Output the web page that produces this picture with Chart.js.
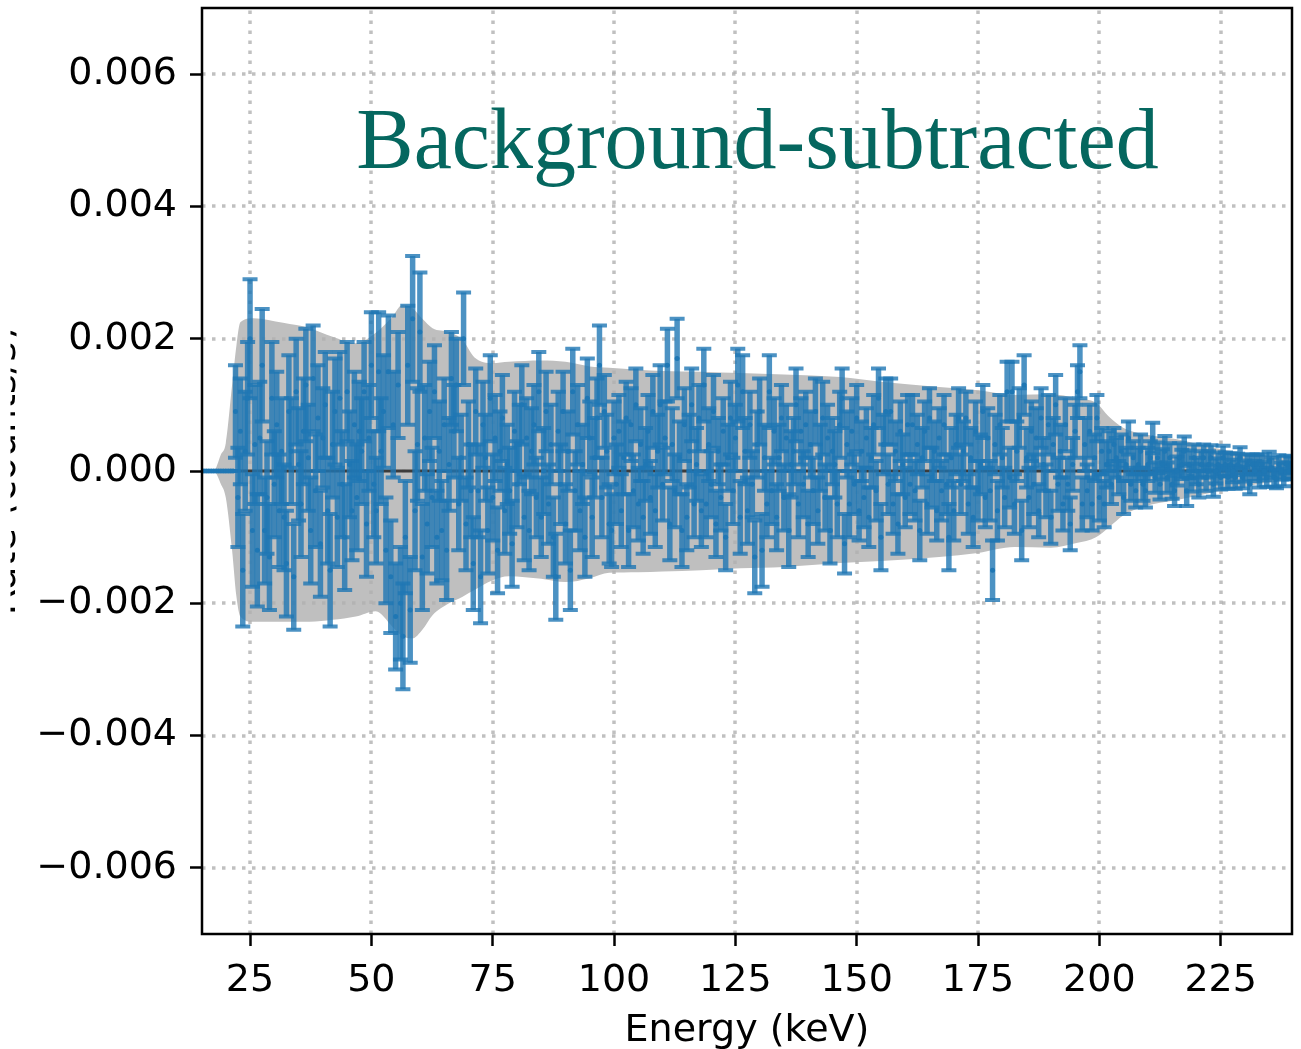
<!DOCTYPE html>
<html>
<head>
<meta charset="utf-8">
<title>Background-subtracted spectrum</title>
<script src="https://cdn.jsdelivr.net/npm/chart.js@4.4.1/dist/chart.umd.min.js"></script>
<style>
  html, body { margin: 0; padding: 0; background: #fff; }
  canvas { display: block; }
</style>
</head>
<body>
<canvas id="spectrum" width="1301" height="1049"></canvas>
<script>
// rate / error arrays are in units of 1e-4 (counts/s), one value per 0.5 keV bin from 15 keV
const SCALE = 1e-4;
const binStart = 15.0;
const binWidth = 0.5;

const rateE4 = [
  0, 0, 0, 0, 0, 0, 0, 0, 0, 0, 0, 0, 0, 0,
  9, -4, 6, -15, 3, 11, 20, -9, 4, -12,
  5, 16, -9, -4, -13, 11, -2, 7, -6, 3,
  -7, -14, 9, 3, -16, 12, 1, -5, 6, 13,
  2, -9, 14, -3, 8, -11, 5, 10, -6, -15,
  4, 9, -7, 11, -2, -10, 12, 1, -6, 7,
  -4, 6, 3, 12, -8, 5, 16, -2, -6, 15,
  3, 9, -12, 15, -16, 7, -22, 13, -20, -25,
  -10, 16, -21, 23, -6, 4, 21, -13, 5, -8,
  9, -4, 12, -10, 3, -9, 7, -12, 1, 14,
  6, 13, -5, 2, 20, -8, 4, -3, -14, 9,
  -3, -16, 7, 2, -9, 11, -4, 5, -12, 3,
  8, -6, 1, -3, -11, 6, -2, 4, 10, -7,
  5, -9, 3, 7, -4, 12, -7, 0, 9, -5,
  4, -10, -16, 6, -2, 9, -8, 3, -15, 12,
  -3, 7, -6, 1, -10, 11, 5, -7, 2, 8,
  16, -4, 9, 3, -8, -9, 5, -2, 6, -6,
  2, 8, -9, 7, -3, 10, -5, 4, -7, 1,
  6, -4, 9, -6, 3, 10, -2, 5, 16, -8,
  4, -3, 17, 2, -9, 7, -7, 3, 10, -5,
  1, 8, -6, 13, -5, 4, -2, 9, -8, 3,
  -4, 6, -10, 2, 8, -3, 5, 13, -7, 12,
  3, -6, 7, -2, -13, 4, 9, -12, 2, -5,
  12, -3, 6, -7, 2, 8, -4, 5, -9, 1,
  3, 10, -5, 6, -2, 7, -8, 4, -3, 9,
  -6, 2, 8, -4, 5, -9, 3, 1, -5, 7,
  11, -11, 4, -5, 6, -2, 8, -6, 3, -4,
  5, -7, 2, 7, -3, 11, -10, 4, 9, -2,
  9, -5, 3, -8, 6, 1, -4, 7, -2, 7,
  -3, 4, -9, 2, 6, -5, 8, -1, 3, -6,
  5, -3, 7, -2, -10, 2, -6, 4, 8, -2,
  3, 8, -5, 2, -7, 6, -3, 1, 9, -4,
  5, -3, -15, 4, -6, 7, 2, -4, 12, -1,
  12, -5, 3, 8, -9, 13, 2, -4, 6, -2,
  5, -6, 8, 1, -3, 7, -7, 4, 10, -2,
  3, -5, 7, -2, -8, 1, 6, 12, 15, -5,
  4, -3, 6, -5, 2, 8, -4, 3, -5, 1,
  3, -2, 4, 2, -1, 3, -4, 1, 5, -2,
  2, -3, 1, 3, -2, -3, 1, 2, 5, -1,
  2, -2, 1, 3, -1, 2, -2, -3, 0, 2,
  1, 3, -3, 1, -1, 2, 0, -2, 1, 2,
  -1, 1, 2, -2, 0, 1, -1, 2, 1, -1,
  1, 0, -1, 1, 2, -1, 0, 1, -2, 1,
  0, 1, -1, 1, 0, -1, 1.5, 0.5, -1, -1.2,
  1, 0, -1, 1, 0, 1, 0
];

const errE4 = [
  0, 0, 0, 0, 0, 0, 0, 0, 0, 0, 0, 0, 0, 0,
  7, 7.5, 8, 8.5, 9, 8.5, 9, 8.5, 9, 8.5,
  8.5, 8.5, 8, 8.5, 8, 8.5, 8, 8, 8.5, 8,
  8, 8, 8.5, 8, 8, 8, 8.5, 8, 8, 8.5,
  8, 8, 8, 8.5, 8, 8, 7.5, 8, 8, 8.5,
  8, 8, 7.5, 7, 8, 8, 7.5, 8, 7.5, 8,
  8, 7.5, 8, 7.5, 8, 8, 8, 8, 8, 9,
  8, 8.5, 8, 8.5, 8.5, 8, 8, 8, 8.5, 8,
  8.5, 9, 8, 9.5, 9, 8.5, 9, 8, 8, 7.5,
  7.5, 7.5, 7, 7, 7.5, 7.5, 7, 7.5, 7, 7,
  7, 7, 7, 6.5, 7, 7, 6.5, 7, 7, 6.5,
  7, 7, 6.5, 6.5, 6.5, 6.5, 6.5, 6.5, 6.5, 6,
  6.5, 6.5, 6, 6.5, 6.5, 6, 6.5, 6, 6, 6.5,
  6, 6, 6.5, 6, 6, 6, 6, 6.5, 6, 6,
  6, 6, 6.5, 6, 6, 6, 6, 6, 6, 6.5,
  6, 6, 6, 6, 6, 6, 5.5, 6, 6, 6,
  6, 6, 5.5, 5.5, 6, 5.5, 5.5, 6, 5.5, 5.5,
  5.5, 5.5, 5.5, 5.5, 5.5, 5.5, 5.5, 5.5, 5.5, 5.5,
  5.5, 5.5, 5.5, 5.5, 5.5, 6, 5.5, 5.5, 5.5, 5.5,
  5.5, 5.5, 6, 5.5, 5.5, 5.5, 5, 5.5, 5.5, 5,
  5.5, 5, 5.5, 5.5, 5, 5.5, 5, 5.5, 5, 5,
  5, 5, 5, 5, 5.5, 5, 5, 5.5, 5.5, 5.5,
  5, 5, 5, 5, 5.5, 5, 5, 5.5, 5, 5,
  5.5, 5, 5, 5, 5, 5, 5, 5, 5.5, 5,
  5, 5.5, 5, 5, 5, 5, 5, 5, 5, 5,
  5, 5, 5.5, 5, 5, 5, 5, 5, 5, 5,
  4.5, 4.5, 5, 5, 5, 4.5, 5, 4.5, 4.5, 4.5,
  4.5, 4.5, 4.5, 4.5, 4.5, 4.5, 5, 4.5, 5, 4.5,
  5, 4.5, 4.5, 4.5, 4.5, 4.5, 4.5, 4.5, 4.5, 4.5,
  4.5, 4.5, 4.5, 4.5, 4.5, 4.5, 4.5, 4.5, 4.5, 4.5,
  4.5, 4.5, 4.5, 4.5, 5, 4.5, 4.5, 4.5, 4.5, 4.5,
  4.5, 4, 4.5, 4.5, 4.5, 4.5, 4.5, 4.5, 4, 4.5,
  4.5, 4.5, 4.5, 4.5, 4.5, 4.5, 4.5, 4.5, 4.5, 4.5,
  4.5, 4.5, 4.5, 4.5, 4.5, 4.5, 4.5, 4.5, 4.5, 4.5,
  4.5, 4, 4.5, 4, 4, 4.5, 4, 4, 4.5, 4,
  4, 4, 4, 4, 4, 4, 4, 4, 4, 4,
  4, 4, 4, 4, 3.5, 3.5, 3.5, 3.5, 3.5, 3.5,
  3, 3, 2.5, 3, 2.5, 2.5, 2.5, 2.5, 2.5, 2.5,
  2.5, 2.5, 2.5, 2.5, 2.5, 2.5, 2.5, 2.5, 2.3, 2.3,
  2.3, 2.3, 2.3, 2.3, 2.3, 2.2, 2.2, 2.3, 2.2, 2.2,
  2.2, 2.2, 2.3, 2.1, 2.1, 2, 2, 2, 2, 2,
  2, 2, 1.9, 1.9, 1.9, 1.8, 1.8, 1.8, 1.8, 1.7,
  1.7, 1.7, 1.7, 1.6, 1.6, 1.6, 1.6, 1.5, 1.5, 1.5,
  1.5, 1.5, 1.5, 1.5, 1.4, 1.4, 1.4, 1.5, 1.4, 1.4,
  1.4, 1.3, 1.3, 1.3, 1.3, 1.2, 1.2
];

// grey envelope (also 1e-4 units)
const bandEnergy = [15, 17.5, 19, 20, 21.3, 22.2, 23, 25.7, 31.8, 37.3,
  42, 46.8, 50.9, 54.3, 56.4, 58.5, 60.5, 62.6, 66, 68.8,
  71.2, 75, 78.3, 85, 90, 95, 99, 105, 110, 118,
  126, 135, 146.6, 155, 167, 175, 182.5, 190, 195.3, 199.3,
  202, 205, 209, 216, 223, 230, 237, 240];
const bandUpperE4 = [0, 0, 2.5, 4.2, 13, 19, 22.5, 23.1, 22.4, 21.6,
  20.3, 19.3, 20.9, 23.3, 25.1, 24.6, 23, 21.6, 21, 19.8,
  17.2, 16.3, 16.5, 16.7, 16.5, 15.8, 15.6, 15.3, 15.1, 15.0,
  14.8, 14.6, 14.2, 13.5, 12.7, 12.2, 11.5, 11.6, 11, 10.3,
  8.2, 6.5, 5.6, 4.8, 3.6, 2.7, 2.2, 2.1];
const bandLowerE4 = [0, 0, -2, -4, -12, -19, -22, -22.8, -22.8, -22.8,
  -22.5, -22, -21.2, -23.5, -25, -25.3, -24, -21.8, -20, -19,
  -18, -16.5, -15.9, -16.3, -16.8, -16.2, -15.4, -15.3, -15.2, -15,
  -14.7, -14.5, -13.9, -13.6, -13, -12.4, -11.5, -11.6, -10.9, -10,
  -8.5, -6.7, -5.4, -4.4, -3.3, -2.3, -1.6, -1.4];

const xTicks = [25, 50, 75, 100, 125, 150, 175, 200, 225];
const xTickLabels = ['25', '50', '75', '100', '125', '150', '175', '200', '225'];
const yTicks = [-0.006, -0.004, -0.002, 0, 0.002, 0.004, 0.006];
const yTickLabels = ['\u22120.006', '\u22120.004', '\u22120.002', '0.000', '0.002', '0.004', '0.006'];

const titleText = 'Background-subtracted';
const xAxisTitle = 'Energy (keV)';
const yAxisTitle = 'Rate (counts/s)';

const energy = rateE4.map((_, i) => binStart + i * binWidth);

Chart.defaults.font.family = 'DejaVu Sans';

// dotted grid, drawn on top of the grey band
function drawGrid(chart) {
  const {ctx, chartArea: a, scales: {x, y}} = chart;
  ctx.save();
  ctx.strokeStyle = 'rgba(176,176,176,0.8)';
  ctx.lineWidth = 3.5;
  ctx.setLineDash([3.5, 6.5]);
  xTicks.forEach(v => {
    const px = Math.round(x.getPixelForValue(v));
    ctx.beginPath(); ctx.moveTo(px, a.bottom); ctx.lineTo(px, a.top); ctx.stroke();
  });
  yTicks.forEach(v => {
    const py = Math.round(y.getPixelForValue(v));
    ctx.beginPath(); ctx.moveTo(a.left, py); ctx.lineTo(a.right, py); ctx.stroke();
  });
  ctx.restore();
}

function drawErrorBars(chart) {
  const {ctx, chartArea: a, scales: {x, y}} = chart;
  ctx.save();
  ctx.beginPath();
  ctx.rect(a.left, a.top, a.right - a.left, a.bottom - a.top);
  ctx.clip();
  ctx.strokeStyle = 'rgba(31,119,180,0.8)';
  ctx.lineCap = 'butt';
  for (let i = 0; i < energy.length; i++) {
    const px = x.getPixelForValue(energy[i]);
    const top = y.getPixelForValue((rateE4[i] + errE4[i]) * SCALE);
    const bot = y.getPixelForValue((rateE4[i] - errE4[i]) * SCALE);
    if (errE4[i] > 0) {
      ctx.lineWidth = 5.5;
      ctx.beginPath(); ctx.moveTo(px, bot); ctx.lineTo(px, top); ctx.stroke();
    }
    ctx.lineWidth = 4;
    ctx.beginPath();
    ctx.moveTo(px - 7.5, top); ctx.lineTo(px + 7.5, top);
    ctx.moveTo(px - 7.5, bot); ctx.lineTo(px + 7.5, bot);
    ctx.stroke();
  }
  ctx.restore();
}

const extrasPlugin = {
  id: 'spectrumExtras',
  afterDatasetDraw(chart, args) {
    if (chart.data.datasets[args.index].label === 'band upper') drawGrid(chart);
  },
  beforeDatasetDraw(chart, args) {
    if (chart.data.datasets[args.index].label === 'rate') drawErrorBars(chart);
  },
  afterDraw(chart) {
    const {ctx, chartArea: a} = chart;
    ctx.save();
    // axes frame
    ctx.strokeStyle = '#000';
    ctx.lineWidth = 2.5;
    ctx.strokeRect(a.left, a.top, a.right - a.left, a.bottom - a.top);
    // title inside the plot
    ctx.fillStyle = '#05675f';
    ctx.font = '86px "Liberation Serif"';
    ctx.textAlign = 'center';
    ctx.textBaseline = 'alphabetic';
    ctx.fillText(titleText, a.left + (a.right - a.left) * 0.5096, a.bottom - (a.bottom - a.top) * 0.827);
    ctx.restore();

    // y label sits almost entirely off the left edge, only a sliver shows
    ctx.save();
    ctx.beginPath();
    ctx.rect(10.5, a.top, 6, a.bottom - a.top);
    ctx.clip();
    ctx.translate(15, (a.top + a.bottom) / 2);
    ctx.rotate(-Math.PI / 2);
    ctx.fillStyle = '#000';
    ctx.font = '38px "DejaVu Sans"';
    ctx.textAlign = 'center';
    ctx.textBaseline = 'alphabetic';
    ctx.fillText(yAxisTitle, 0, 0);
    ctx.restore();
  }
};

const ctx = document.getElementById('spectrum').getContext('2d');
new Chart(ctx, {
  type: 'scatter',
  data: {
    datasets: [
      {
        label: 'band upper',
        type: 'line',
        data: bandEnergy.map((e, i) => ({x: e, y: bandUpperE4[i] * SCALE})),
        borderColor: 'rgba(0,0,0,0)',
        borderWidth: 0,
        pointRadius: 0,
        backgroundColor: '#bfbfbf',
        fill: '+1',
        cubicInterpolationMode: 'monotone',
        order: 5
      },
      {
        label: 'band lower',
        type: 'line',
        data: bandEnergy.map((e, i) => ({x: e, y: bandLowerE4[i] * SCALE})),
        borderColor: 'rgba(0,0,0,0)',
        borderWidth: 0,
        pointRadius: 0,
        fill: false,
        cubicInterpolationMode: 'monotone',
        order: 6
      },
      {
        label: 'zero',
        type: 'line',
        data: [{x: binStart, y: 0}, {x: 240, y: 0}],
        borderColor: '#3c3c3c',
        borderWidth: 3,
        pointRadius: 0,
        fill: false,
        order: 3
      },
      {
        label: 'rate',
        data: energy.map((e, i) => ({x: e, y: rateE4[i] * SCALE})),
        backgroundColor: '#1f77b4',
        borderWidth: 0,
        pointRadius: 2.5,
        order: 1
      }
    ]
  },
  options: {
    responsive: false,
    animation: false,
    events: [],
    layout: {padding: {left: 0, top: 8, right: 9, bottom: 0}},
    plugins: {
      legend: {display: false},
      tooltip: {enabled: false}
    },
    scales: {
      x: {
        type: 'linear',
        min: 15.1,
        max: 239.7,
        afterBuildTicks: s => { s.ticks = xTicks.map(v => ({value: v})); },
        afterFit: s => { s.height = 115; s.paddingLeft = 0; s.paddingRight = 0; },
        grid: {display: true, drawOnChartArea: false, drawTicks: true, tickLength: 12, tickWidth: 2.5, tickColor: '#000'},
        border: {display: false},
        ticks: {
          color: '#000',
          font: {size: 38},
          padding: 12,
          maxRotation: 0,
          autoSkip: false,
          callback: (v, i) => xTickLabels[i]
        },
        title: {display: true, text: xAxisTitle, color: '#000', font: {size: 38}, padding: {top: 0, bottom: -5}}
      },
      y: {
        type: 'linear',
        min: -0.007,
        max: 0.007,
        afterBuildTicks: s => { s.ticks = yTicks.map(v => ({value: v})); },
        afterFit: s => { s.width = 202; s.paddingTop = 0; s.paddingBottom = 0; },
        grid: {display: true, drawOnChartArea: false, drawTicks: true, tickLength: 12, tickWidth: 2.5, tickColor: '#000'},
        border: {display: false},
        ticks: {
          color: '#000',
          font: {size: 38},
          padding: 13,
          autoSkip: false,
          callback: (v, i) => yTickLabels[i]
        }
      }
    }
  },
  plugins: [extrasPlugin]
});
</script>
</body>
</html>
